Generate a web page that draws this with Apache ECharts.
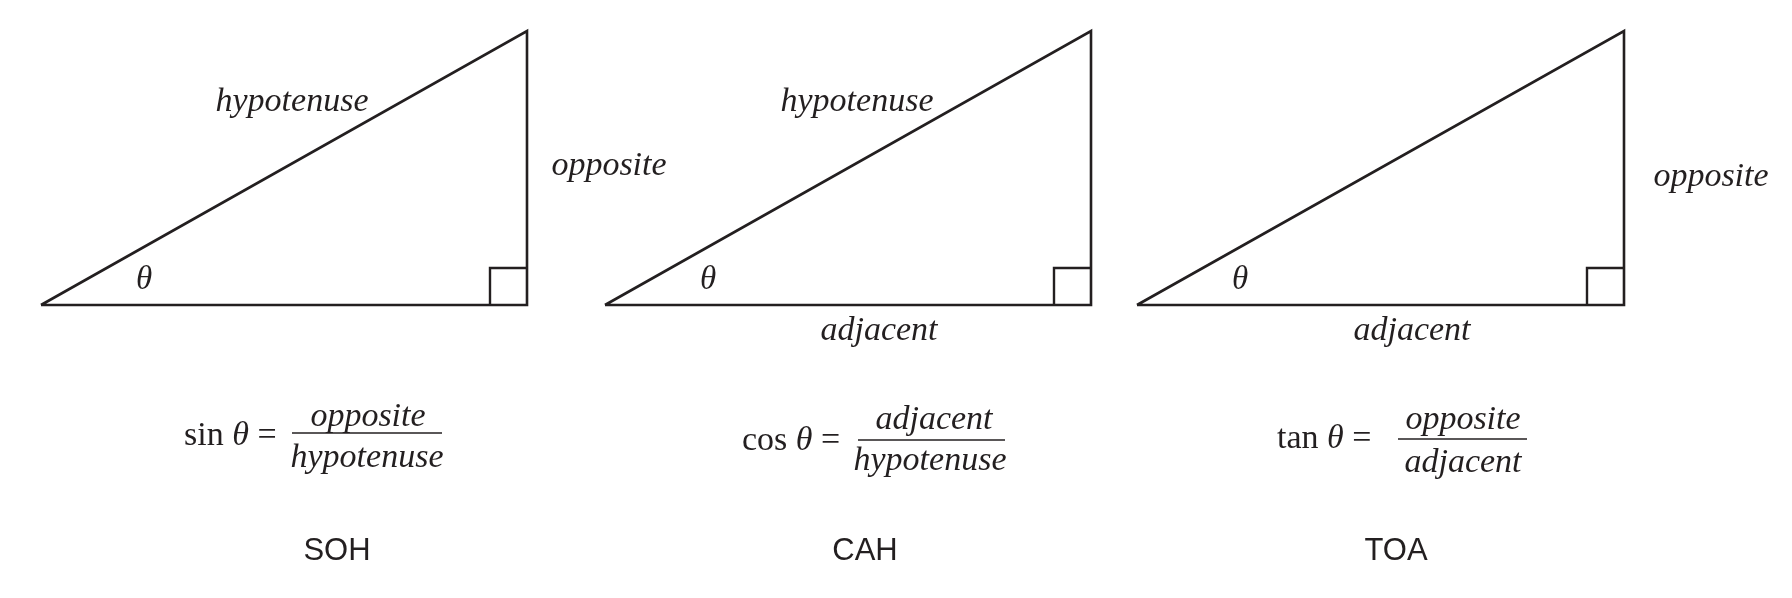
<!DOCTYPE html>
<html>
<head>
<meta charset="utf-8">
<script src="https://cdn.jsdelivr.net/npm/echarts@6/dist/echarts.min.js"></script>
<style>
html,body{margin:0;padding:0;background:#fff;}
#c{width:1792px;height:598px;}
</style>
</head>
<body>
<div id="c"></div>
<script>
// ---- data ----
const triLeftX = [41, 605, 1137];
const triRightX = [527, 1091, 1624];
const triBaseY = [305, 305, 305];
const triTopY = [31, 31, 31];
const squareSide = [37, 37, 37];
const ratioNames = ['sin', 'cos', 'tan'];
const numerators = ['opposite', 'adjacent', 'opposite'];
const denominators = ['hypotenuse', 'hypotenuse', 'adjacent'];
const mnemonics = ['SOH', 'CAH', 'TOA'];
// fraction bar extents [x1, x2, y]
const fracBars = [[292, 442, 433], [858, 1005, 440], [1398, 1527, 439]];

const INK = '#231f20';
const SERIF = '"Liberation Serif","DejaVu Serif",serif';
const SANS = '"Liberation Sans",Arial,sans-serif';

const series = [];
for (let i = 0; i < 3; i++) {
  const l = triLeftX[i], r = triRightX[i], b = triBaseY[i], t = triTopY[i], s = squareSide[i];
  series.push({
    type: 'line', symbol: 'none', silent: true, animation: false,
    lineStyle: { color: INK, width: 2.6, join: 'miter', cap: 'butt' },
    data: [[l, b], [r, t], [r, b], [l, b]]
  });
  series.push({
    type: 'line', symbol: 'none', silent: true, animation: false,
    lineStyle: { color: INK, width: 2.4, join: 'miter', cap: 'butt' },
    data: [[r - s, b], [r - s, b - s], [r, b - s]]
  });
  const fb = fracBars[i];
  series.push({
    type: 'line', symbol: 'none', silent: true, animation: false,
    lineStyle: { color: INK, width: 1.6 },
    data: [[fb[0], fb[2]], [fb[1], fb[2]]]
  });
}

function italic(text, x, y, size) {
  return { type: 'text', x: x, y: y, silent: true,
    style: { text: text, fill: INK, fontFamily: SERIF, fontStyle: 'italic', fontSize: size || 34,
      align: 'center', verticalAlign: 'middle' } };
}

const graphics = [
  italic('hypotenuse', 292, 102),
  italic('opposite', 609, 166),
  italic('θ', 144, 280, 33),
  italic('hypotenuse', 857, 102),
  italic('adjacent', 879, 331),
  italic('θ', 708, 280, 33),
  italic('adjacent', 1412, 331),
  italic('opposite', 1711, 177),
  italic('θ', 1240, 280, 33)
];

const fLeft = [184, 742, 1277];
const fMid = [436, 441, 439];
const numY = [417, 420, 420];
const denY = [458, 461, 463];
const numX = [368, 934, 1463];
const denX = [367, 930, 1463];
const mnX = [337, 865, 1396];
for (let i = 0; i < 3; i++) {
  graphics.push({ type: 'text', x: fLeft[i], y: fMid[i], silent: true,
    style: { text: '{r|' + ratioNames[i] + ' }{i|θ}{r| = }', fill: INK,
      align: 'left', verticalAlign: 'middle',
      rich: {
        r: { fontFamily: SERIF, fontSize: 34, fill: INK },
        i: { fontFamily: SERIF, fontSize: 34, fontStyle: 'italic', fill: INK }
      } } });
  graphics.push(italic(numerators[i], numX[i], numY[i]));
  graphics.push(italic(denominators[i], denX[i], denY[i]));
  graphics.push({ type: 'text', x: mnX[i], y: 551, silent: true,
    style: { text: mnemonics[i], fill: INK, fontFamily: SANS, fontSize: 31,
      align: 'center', verticalAlign: 'middle' } });
}

const chart = echarts.init(document.getElementById('c'));
chart.setOption({
  animation: false,
  backgroundColor: '#fff',
  grid: { left: 0, right: 0, top: 0, bottom: 0 },
  xAxis: { type: 'value', min: 0, max: 1792, show: false },
  yAxis: { type: 'value', min: 0, max: 598, inverse: true, show: false },
  series: series,
  graphic: graphics
});
</script>
</body>
</html>
